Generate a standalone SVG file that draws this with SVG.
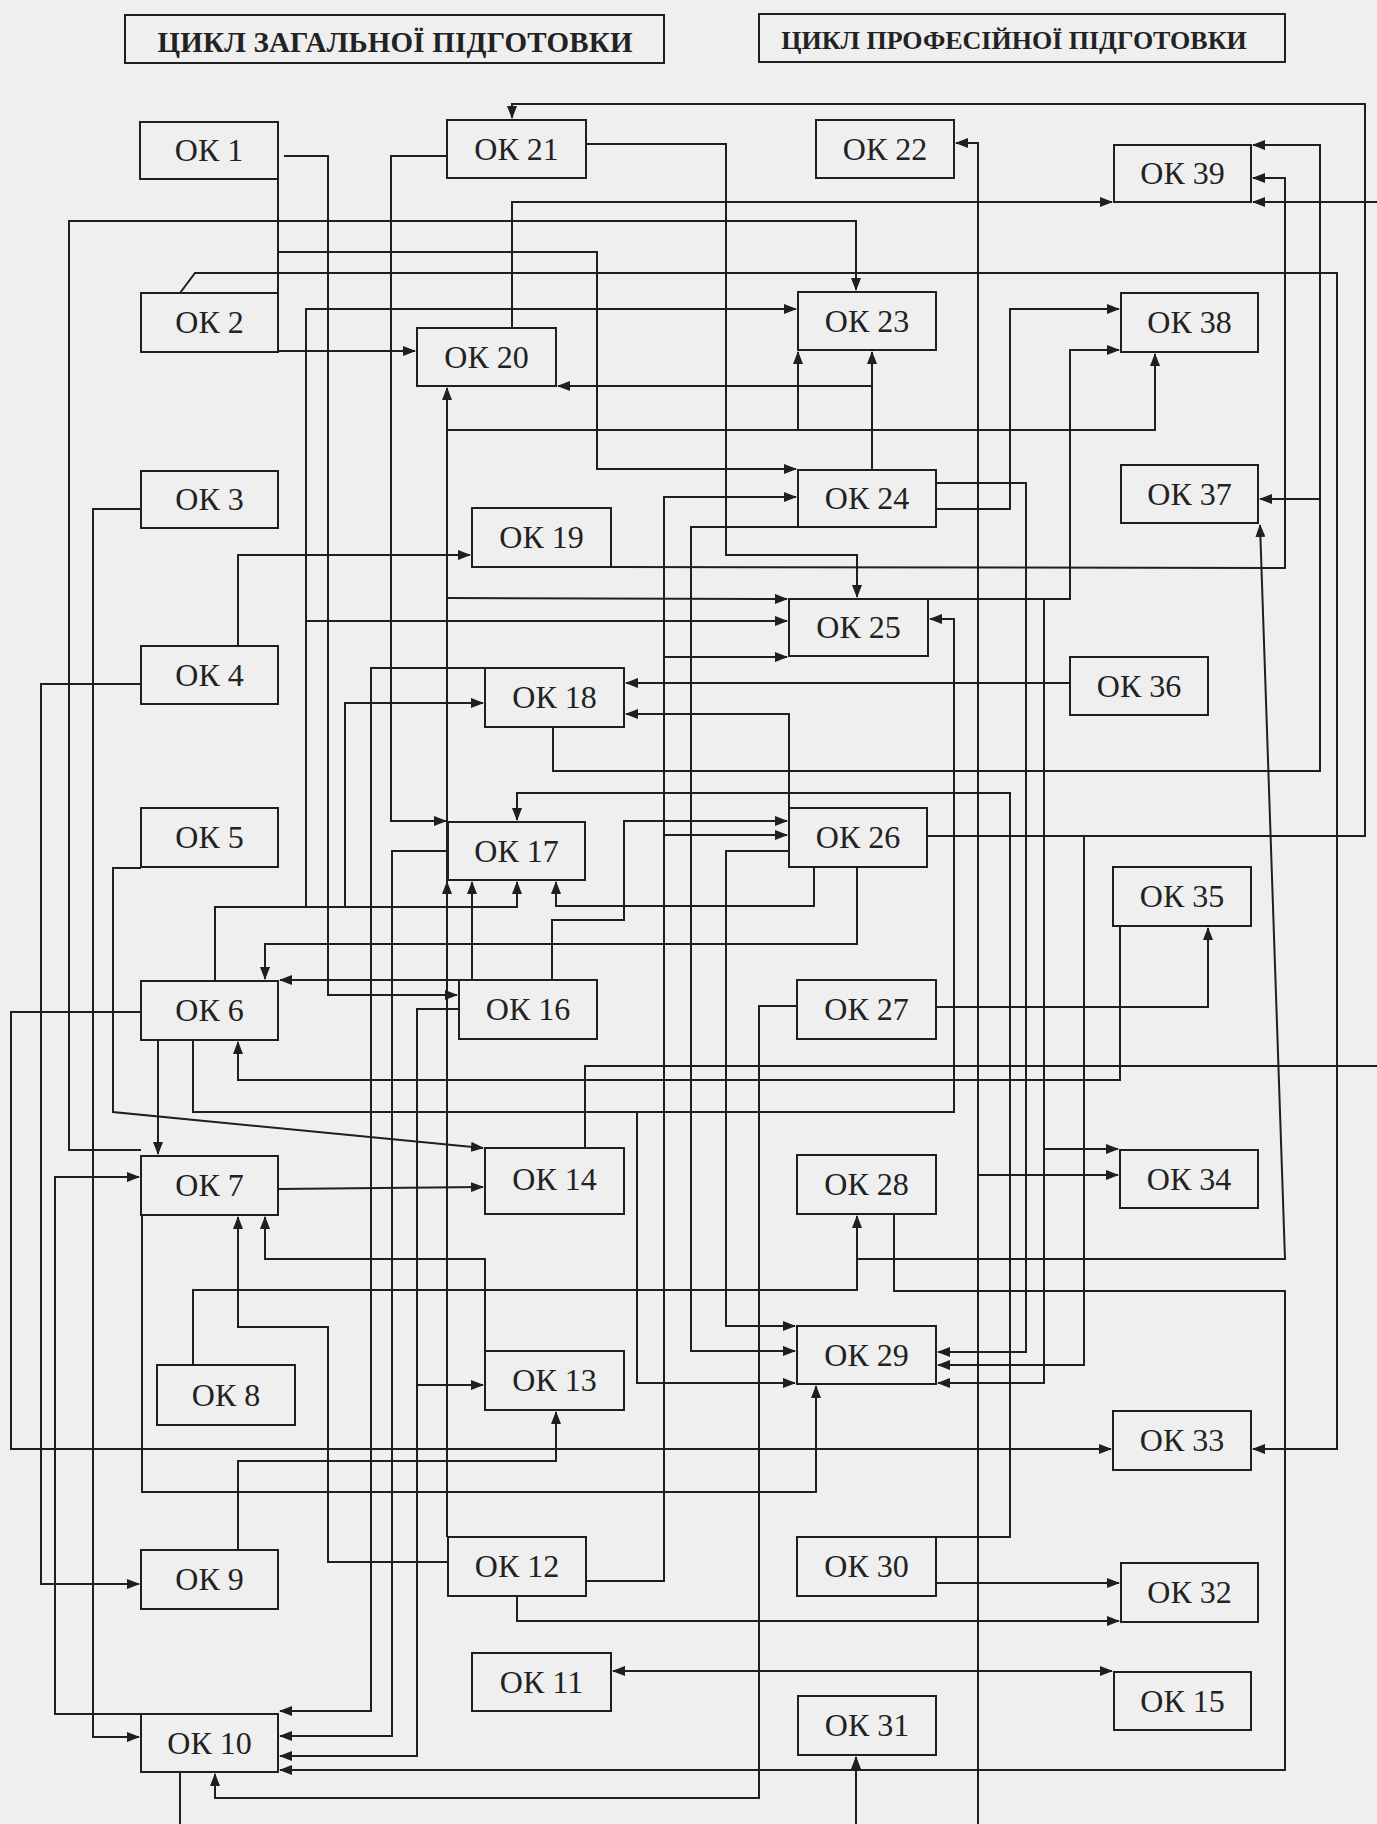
<svg xmlns="http://www.w3.org/2000/svg" width="1377" height="1824" viewBox="0 0 1377 1824">
<style>
.box{fill:none;stroke:#1f1f1f;stroke-width:2}
.lbl{font-family:"Liberation Serif","Times New Roman",serif;font-size:32px;fill:#222;text-anchor:middle}
.hd{font-family:"Liberation Serif","Times New Roman",serif;font-weight:bold;fill:#222;text-anchor:middle}
.c{fill:none;stroke:#1f1f1f;stroke-width:2}
.a{marker-end:url(#ah)}
.b{marker-start:url(#as);marker-end:url(#ah)}
</style>
<defs>
<marker id="ah" markerWidth="13" markerHeight="10" refX="12" refY="5" orient="auto" markerUnits="userSpaceOnUse"><path d="M0,0 L13,5 L0,10 z" fill="#1f1f1f"/></marker>
<marker id="as" markerWidth="13" markerHeight="10" refX="12" refY="5" orient="auto-start-reverse" markerUnits="userSpaceOnUse"><path d="M0,0 L13,5 L0,10 z" fill="#1f1f1f"/></marker>
</defs>
<rect width="1377" height="1824" fill="#efefef"/>
<g id="header1"><rect class="box" x="125" y="15" width="539" height="48"/><text class="hd" x="395" y="52" font-size="29" textLength="475">ЦИКЛ ЗАГАЛЬНОЇ ПІДГОТОВКИ</text></g>
<g id="header2"><rect class="box" x="759" y="14" width="526" height="48"/><text class="hd" x="1014" y="49" font-size="26">ЦИКЛ ПРОФЕСІЙНОЇ ПІДГОТОВКИ</text></g>
<g id="connectors">
<path class="c a" d="M927,836 H1365 V104 H512 V118"/>
<path class="c a" d="M1084,836 V1365 H938"/>
<path class="c a" d="M553,727 V771 H1320 V145 H1253"/>
<path class="c a" d="M1320,499 H1260"/>
<path class="c a" d="M611,567 L1285,568 V178 H1253"/>
<path class="c a" d="M1377,202 H1253"/>
<path class="c" d="M585,1148 V1066 H1377"/>
<path class="c a" d="M141,1012 H11 V1449 H1111"/>
<path class="c" d="M180,1772 V1824"/>
<path class="c a" d="M856,1824 V1757"/>
<path class="c a" d="M978,1824 V143 H956"/>
<path class="c a" d="M978,1175 H1118"/>
<path class="c a" d="M512,328 V202 H1112"/>
<path class="c a" d="M141,1150 H69 V221 H856 V290"/>
<path class="c" d="M278,179 V293"/>
<path class="c a" d="M278,252 H597 V469 H796"/>
<path class="c a" d="M180,293 L195,273 H1337 V1449 H1253"/>
<path class="c a" d="M215,981 V907 H517 V882"/>
<path class="c a" d="M306,907 V309 H796"/>
<path class="c a" d="M306,621 H787"/>
<path class="c a" d="M345,907 V703 H483"/>
<path class="c a" d="M278,351 H415"/>
<path class="c a" d="M872,470 V352"/>
<path class="c a" d="M872,386 H558"/>
<path class="c a" d="M447,1537 V388"/>
<path class="c a" d="M447,897 V882"/>
<path class="c a" d="M447,430 H1155 V354"/>
<path class="c a" d="M798,430 V352"/>
<path class="c a" d="M447,598 L787,599"/>
<path class="c a" d="M447,156 H391 V821 H446"/>
<path class="c a" d="M448,851 H392 V1736 H280"/>
<path class="c a" d="M284,156 H328 V995 H457"/>
<path class="c a" d="M448,1562 H328 V1327 H238 V1217"/>
<path class="c a" d="M586,144 H726 V555 H857 V597"/>
<path class="c a" d="M586,1581 H664 V497 H796"/>
<path class="c a" d="M664,657 H787"/>
<path class="c a" d="M664,835 H787"/>
<path class="c a" d="M798,527 H691 V1351 H795"/>
<path class="c a" d="M1070,683 H626"/>
<path class="c a" d="M789,808 V714 H626"/>
<path class="c a" d="M936,1537 H1010 V793 H517 V820"/>
<path class="c a" d="M552,980 V920 H624 V821 H787"/>
<path class="c a" d="M789,851 H726 V1326 H795"/>
<path class="c a" d="M814,867 V906 H556 V882"/>
<path class="c a" d="M857,867 V944 H265 V979"/>
<path class="c a" d="M459,980 H280"/>
<path class="c a" d="M472,980 V882"/>
<path class="c a" d="M1120,926 V1080 H238 V1042"/>
<path class="c a" d="M193,1040 V1112 H954 V619 H930"/>
<path class="c a" d="M637,1112 V1383 H795"/>
<path class="c a" d="M141,868 H113 V1112 L483,1148"/>
<path class="c a" d="M158,1040 V1154"/>
<path class="c a" d="M141,1714 H55 V1177 H139"/>
<path class="c a" d="M278,1189 L483,1187"/>
<path class="c a" d="M142,1215 V1492 H816 V1386"/>
<path class="c a" d="M485,1351 V1259 H265 V1217"/>
<path class="c a" d="M193,1365 V1290 H857 V1216"/>
<path class="c a" d="M857,1259 H1285 L1260,525"/>
<path class="c a" d="M894,1214 V1291 H1285 V1770 H280"/>
<path class="c a" d="M797,1006 H759 V1798 H215 V1774"/>
<path class="c a" d="M936,1007 H1208 V928"/>
<path class="c a" d="M928,599 H1070 V350 H1119"/>
<path class="c a" d="M1044,599 V1383 H938"/>
<path class="c a" d="M1044,1149 H1118"/>
<path class="c a" d="M936,483 H1026 V1352 H938"/>
<path class="c a" d="M936,509 H1010 V309 H1119"/>
<path class="c a" d="M936,1583 H1119"/>
<path class="c a" d="M517,1596 V1621 H1119"/>
<path class="c b" d="M613,1671 H1112"/>
<path class="c a" d="M238,1550 V1461 H556 V1412"/>
<path class="c a" d="M459,1009 H417 V1756 H280"/>
<path class="c a" d="M417,1385 H483"/>
<path class="c a" d="M141,684 H41 V1584 H139"/>
<path class="c a" d="M141,509 H93 V1737 H139"/>
<path class="c a" d="M485,668 H371 V1711 H280"/>
<path class="c a" d="M238,646 V555 H470"/>
</g>
<g id="ok1"><rect class="box" x="140" y="122" width="138" height="57"/><text class="lbl" x="209" y="161">ОК 1</text></g>
<g id="ok2"><rect class="box" x="141" y="293" width="137" height="59"/><text class="lbl" x="209.5" y="333">ОК 2</text></g>
<g id="ok3"><rect class="box" x="141" y="471" width="137" height="57"/><text class="lbl" x="209.5" y="510">ОК 3</text></g>
<g id="ok4"><rect class="box" x="141" y="646" width="137" height="58"/><text class="lbl" x="209.5" y="686">ОК 4</text></g>
<g id="ok5"><rect class="box" x="141" y="808" width="137" height="59"/><text class="lbl" x="209.5" y="848">ОК 5</text></g>
<g id="ok6"><rect class="box" x="141" y="981" width="137" height="59"/><text class="lbl" x="209.5" y="1021">ОК 6</text></g>
<g id="ok7"><rect class="box" x="141" y="1156" width="137" height="59"/><text class="lbl" x="209.5" y="1196">ОК 7</text></g>
<g id="ok8"><rect class="box" x="157" y="1365" width="138" height="60"/><text class="lbl" x="226" y="1406">ОК 8</text></g>
<g id="ok9"><rect class="box" x="141" y="1550" width="137" height="59"/><text class="lbl" x="209.5" y="1590">ОК 9</text></g>
<g id="ok10"><rect class="box" x="141" y="1714" width="137" height="58"/><text class="lbl" x="209.5" y="1754">ОК 10</text></g>
<g id="ok11"><rect class="box" x="472" y="1653" width="139" height="58"/><text class="lbl" x="541.5" y="1693">ОК 11</text></g>
<g id="ok12"><rect class="box" x="448" y="1537" width="138" height="59"/><text class="lbl" x="517" y="1577">ОК 12</text></g>
<g id="ok13"><rect class="box" x="485" y="1351" width="139" height="59"/><text class="lbl" x="554.5" y="1391">ОК 13</text></g>
<g id="ok14"><rect class="box" x="485" y="1148" width="139" height="66"/><text class="lbl" x="554.5" y="1190">ОК 14</text></g>
<g id="ok15"><rect class="box" x="1114" y="1672" width="137" height="58"/><text class="lbl" x="1182.5" y="1712">ОК 15</text></g>
<g id="ok16"><rect class="box" x="459" y="980" width="138" height="59"/><text class="lbl" x="528" y="1020">ОК 16</text></g>
<g id="ok17"><rect class="box" x="448" y="822" width="137" height="58"/><text class="lbl" x="516.5" y="862">ОК 17</text></g>
<g id="ok18"><rect class="box" x="485" y="668" width="139" height="59"/><text class="lbl" x="554.5" y="708">ОК 18</text></g>
<g id="ok19"><rect class="box" x="472" y="508" width="139" height="59"/><text class="lbl" x="541.5" y="548">ОК 19</text></g>
<g id="ok20"><rect class="box" x="417" y="328" width="139" height="58"/><text class="lbl" x="486.5" y="368">ОК 20</text></g>
<g id="ok21"><rect class="box" x="447" y="120" width="139" height="58"/><text class="lbl" x="516.5" y="160">ОК 21</text></g>
<g id="ok22"><rect class="box" x="816" y="120" width="138" height="58"/><text class="lbl" x="885" y="160">ОК 22</text></g>
<g id="ok23"><rect class="box" x="798" y="292" width="138" height="58"/><text class="lbl" x="867" y="332">ОК 23</text></g>
<g id="ok24"><rect class="box" x="798" y="470" width="138" height="57"/><text class="lbl" x="867" y="509">ОК 24</text></g>
<g id="ok25"><rect class="box" x="789" y="599" width="139" height="57"/><text class="lbl" x="858.5" y="638">ОК 25</text></g>
<g id="ok26"><rect class="box" x="789" y="808" width="138" height="59"/><text class="lbl" x="858" y="848">ОК 26</text></g>
<g id="ok27"><rect class="box" x="797" y="980" width="139" height="59"/><text class="lbl" x="866.5" y="1020">ОК 27</text></g>
<g id="ok28"><rect class="box" x="797" y="1155" width="139" height="59"/><text class="lbl" x="866.5" y="1195">ОК 28</text></g>
<g id="ok29"><rect class="box" x="797" y="1326" width="139" height="58"/><text class="lbl" x="866.5" y="1366">ОК 29</text></g>
<g id="ok30"><rect class="box" x="797" y="1537" width="139" height="59"/><text class="lbl" x="866.5" y="1577">ОК 30</text></g>
<g id="ok31"><rect class="box" x="798" y="1696" width="138" height="59"/><text class="lbl" x="867" y="1736">ОК 31</text></g>
<g id="ok32"><rect class="box" x="1121" y="1563" width="137" height="59"/><text class="lbl" x="1189.5" y="1603">ОК 32</text></g>
<g id="ok33"><rect class="box" x="1113" y="1411" width="138" height="59"/><text class="lbl" x="1182" y="1451">ОК 33</text></g>
<g id="ok34"><rect class="box" x="1120" y="1150" width="138" height="58"/><text class="lbl" x="1189" y="1190">ОК 34</text></g>
<g id="ok35"><rect class="box" x="1113" y="867" width="138" height="59"/><text class="lbl" x="1182" y="907">ОК 35</text></g>
<g id="ok36"><rect class="box" x="1070" y="657" width="138" height="58"/><text class="lbl" x="1139" y="697">ОК 36</text></g>
<g id="ok37"><rect class="box" x="1121" y="465" width="137" height="58"/><text class="lbl" x="1189.5" y="505">ОК 37</text></g>
<g id="ok38"><rect class="box" x="1121" y="293" width="137" height="59"/><text class="lbl" x="1189.5" y="333">ОК 38</text></g>
<g id="ok39"><rect class="box" x="1114" y="145" width="137" height="57"/><text class="lbl" x="1182.5" y="184">ОК 39</text></g>
</svg>
